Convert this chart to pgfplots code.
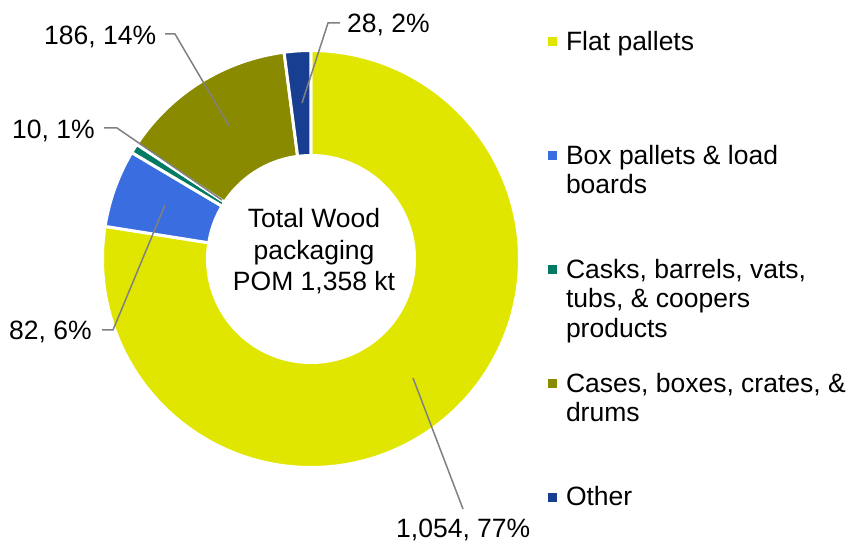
\documentclass[border=0pt]{standalone}
\usepackage{fontspec}
\setmainfont{Liberation Sans}
\usepackage{pgfplots}
\usepackage{pgfplotstable}
\pgfplotsset{compat=1.18}
\usepgfplotslibrary{polar}

\definecolor{cflat}{RGB}{225,230,0}
\definecolor{cbox}{RGB}{58,110,224}
\definecolor{ccask}{RGB}{0,122,98}
\definecolor{ccase}{RGB}{138,138,0}
\definecolor{cother}{RGB}{23,62,145}
\definecolor{cline}{RGB}{128,128,128}

\pgfplotstableread{
id value
0 1054
1 82
2 10
3 186
4 28
}\datatable

\begin{document}
\begin{tikzpicture}[x=1pt,y=1pt,font=\fontsize{26.5}{31.5}\selectfont]
\useasboundingbox (0,0) rectangle (847,543);
\pgfplotstablegetelem{0}{value}\of\datatable \edef\vA{\pgfplotsretval}
\pgfplotstablegetelem{1}{value}\of\datatable \edef\vB{\pgfplotsretval}
\pgfplotstablegetelem{2}{value}\of\datatable \edef\vC{\pgfplotsretval}
\pgfplotstablegetelem{3}{value}\of\datatable \edef\vD{\pgfplotsretval}
\pgfplotstablegetelem{4}{value}\of\datatable \edef\vE{\pgfplotsretval}
\pgfmathsetmacro\tot{\vA+\vB+\vC+\vD+\vE}
% slices run clockwise from 12 o'clock (450 deg = 90 deg)
\pgfmathsetmacro\aA{450-360*(\vA/\tot)}
\pgfmathsetmacro\aB{\aA-360*(\vB/\tot)}
\pgfmathsetmacro\aC{\aB-360*(\vC/\tot)}
\pgfmathsetmacro\aD{\aC-360*(\vD/\tot)}
\pgfmathsetmacro\aE{\aD-360*(\vE/\tot)}
\begin{polaraxis}[
  at={(311pt,284pt)}, anchor=origin,
  scale only axis, width=417pt, height=417pt,
  xmin=0, xmax=360, ymin=0, ymax=1,
  hide axis, clip=false,
  legend cell align=left,
  legend image code/.code={%
    \path (0pt,0pt) -- (17pt,0pt);
    \fill[#1, draw=none] (0pt,4.3pt) rectangle (9pt,13.3pt);},
  legend style={
    at={(1.06355,1.04916)}, anchor=north west,
    draw=none, fill=none, inner sep=0pt, outer sep=0pt,
    row sep=0pt, column sep=0pt,
    nodes={inner sep=0pt, outer sep=0pt, text height=20pt, text depth=94pt, anchor=base west},
    font=\fontsize{26.5}{29.5}\selectfont},
]
\addplot[fill=cflat, draw=white, line width=3pt, domain=\aA:450, samples=280] {1} -- (axis cs:0,0) -- cycle;
\addlegendentry{\begin{tabular}[t]{@{}l@{}}Flat pallets\end{tabular}}
\addplot[fill=cbox, draw=white, line width=3pt, domain=\aB:\aA, samples=40] {1} -- (axis cs:0,0) -- cycle;
\addlegendentry{\begin{tabular}[t]{@{}l@{}}Box pallets \& load\\boards\end{tabular}}
\addplot[fill=ccask, draw=white, line width=3pt, domain=\aC:\aB, samples=10] {1} -- (axis cs:0,0) -- cycle;
\addlegendentry{\begin{tabular}[t]{@{}l@{}}Casks, barrels, vats,\\tubs, \& coopers\\products\end{tabular}}
\addplot[fill=ccase, draw=white, line width=3pt, domain=\aD:\aC, samples=60] {1} -- (axis cs:0,0) -- cycle;
\addlegendentry{\begin{tabular}[t]{@{}l@{}}Cases, boxes, crates, \&\\drums\end{tabular}}
\addplot[fill=cother, draw=white, line width=3pt, domain=\aE:\aD, samples=20] {1} -- (axis cs:0,0) -- cycle;
\addlegendentry{\begin{tabular}[t]{@{}l@{}}Other\end{tabular}}
\addplot[forget plot, fill=white, draw=none, domain=0:360, samples=240] {0.5036} -- cycle;
\end{polaraxis}

% centre text
\node[anchor=base] at (314,315) {Total Wood};
\node[anchor=base] at (314,283.5) {packaging};
\node[anchor=base] at (314,252) {POM 1,358 kt};

% data labels and leader lines
\draw[cline, line width=1.5pt] (340,520) -- (328,520) -- (302,440);
\node[anchor=base west, inner sep=0pt] at (347,510) {28, 2\%};
\draw[cline, line width=1.5pt] (165,509) -- (175,509) -- (229,417);
\node[anchor=base west, inner sep=0pt] at (44,498) {186, 14\%};
\draw[cline, line width=1.5pt] (104,415) -- (117,415) -- (222,343);
\node[anchor=base west, inner sep=0pt] at (12,404) {10, 1\%};
\draw[cline, line width=1.5pt] (102,213) -- (113,213) -- (165,338);
\node[anchor=base west, inner sep=0pt] at (9,203) {82, 6\%};
\draw[cline, line width=1.5pt] (413,165) -- (463,34);
\node[anchor=base west, inner sep=0pt] at (396,5) {1,054, 77\%};
\end{tikzpicture}
\end{document}
